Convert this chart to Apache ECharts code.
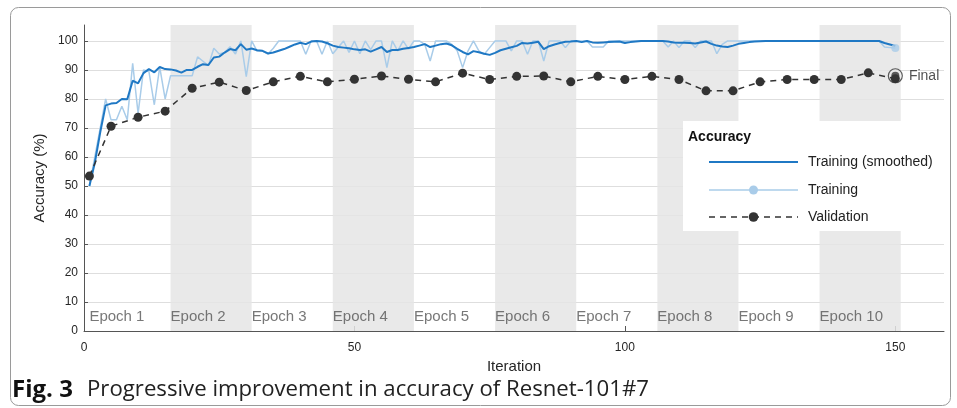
<!DOCTYPE html>
<html><head><meta charset="utf-8">
<script src="https://cdn.jsdelivr.net/npm/echarts@6/dist/echarts.min.js"></script>
<style>html,body{margin:0;padding:0;background:#fff}#c{width:957px;height:408px}</style>
</head><body><div id="c"></div>
<script>
// ---- data ----
const trainingRaw = [
  50,60,70,80,72.8,72.8,77.5,72.8,92.3,75,
  90,89.5,78,91,80,88,88,88,88,88,
  94.5,93,91.5,97.5,95.5,96,98,95.5,100,87.7,
  100,96.5,96.5,95.5,97.5,100,100,100,100,100,
  95.4,100,100,95.4,100,95.6,97.8,100,96,100,
  95.6,100,97,100,100,90.8,100,96.6,100,97.2,
  100,100,98.8,93.1,100,100,100,98.8,96.6,90.8,
  96.6,100,96.6,95.4,97.7,100,100,100,96.6,100,
  100,95.4,100,100,93.1,100,100,100,97.7,100,
  100,100,100,97.9,97.9,97.9,100,100,100,100,
  100,100,100,100,100,100,100,97.9,100,97.7,
  100,100,97.7,100,100,100,95.6,98.8,100,100,
  100,100,100,100,100,100,100,100,100,100,
  100,100,100,100,100,100,100,100,100,100,
  100,100,100,100,100,100,100,97.9,97.7,97.6
];
const trainingSmoothed = [
  50,58,68.5,77.8,78.4,78.6,80,79.9,86.3,85.4,
  88.9,90.3,89.2,91,90.3,90.2,89.8,89.1,90,90,
  91.1,92,91.7,94.3,94.6,96,97.2,96.8,98.9,97,
  97.4,96.8,96.6,95.7,96,96.6,97.2,98,98.8,99.4,
  98.9,99.8,100,99.8,99.2,98.4,97.9,97.7,97.5,97.1,
  96.9,97.1,96.3,97.1,97.9,96.2,96.9,96.9,97.3,97.6,
  97.9,98.4,98.9,97.9,98.4,98.9,99.1,98.5,97.3,96.2,
  95.4,96.5,96.1,95.6,95.2,95.9,96.8,97.3,97.8,98.3,
  99.3,99.1,99.4,99.7,97.2,98.2,98.8,99.3,99.7,99.8,
  100,99.6,100,99.5,99.4,99.5,99.6,99.7,99.8,99.3,
  99.6,99.8,100,100,100,100,100,99.8,99.5,99.4,
  99.4,99.3,99.1,99.5,99.8,99,98.4,98.1,97.9,98.4,
  99,99.3,99.6,99.8,99.9,100,100,100,100,100,
  100,100,100,100,100,100,100,100,100,100,
  100,100,100,100,100,100,100,99.3,98.8,98.3
];
const validationIters = [1,5,10,15,20,25,30,35,40,45,50,55,60,65,70,75,80,85,90,95,100,105,110,115,120,125,130,135,140,145,150];
const validationAcc = [53.4,70.6,73.7,75.8,83.7,85.8,82.9,85.9,87.8,85.9,86.8,87.9,86.8,85.9,88.9,86.7,87.8,87.9,85.9,87.8,86.7,87.8,86.7,82.8,82.8,85.9,86.7,86.7,86.7,89.0,87.0];
const finalIter = 150;
const finalAcc = 88.0;
const epochNames = ['Epoch 1','Epoch 2','Epoch 3','Epoch 4','Epoch 5','Epoch 6','Epoch 7','Epoch 8','Epoch 9','Epoch 10'];
const shadedEpochs = [2,4,6,8,10];
const itersPerEpoch = 15;
const xTicks = [0,50,100,150];
const yTicks = [0,10,20,30,40,50,60,70,80,90,100];

// ---- styling ----
const FONT = '"Liberation Sans", Arial, Helvetica, sans-serif';
const C_SMOOTH = '#1f78c4';
const C_RAW = '#a9cce9';
const C_VAL = '#333333';
const C_BAND = '#e5e5e5';
const C_GRID = '#dedede';

const rawData = trainingRaw.map((v, i) => [i + 1, v]);
const smoothData = trainingSmoothed.map((v, i) => [i + 1, v]);
const valData = validationIters.map((it, i) => [it, validationAcc[i]]);
const bandData = shadedEpochs.map(e => [{xAxis: (e - 1) * itersPerEpoch + 1}, {xAxis: e * itersPerEpoch + 1}]);
const epochLabelData = epochNames.map((n, k) => ({value: [k * itersPerEpoch + 1, 4.8], name: n}));

const gridColors = yTicks.map(() => C_GRID).concat(['rgba(0,0,0,0)']);

const chart = echarts.init(document.getElementById('c'), null, {renderer: 'canvas'});
chart.setOption({
  animation: false,
  backgroundColor: '#fff',
  textStyle: {fontFamily: FONT},
  grid: {left: 84, right: 13, top: 25, bottom: 77, containLabel: false},
  xAxis: {
    type: 'value', min: 0, max: 159, interval: 50,
    name: 'Iteration', nameLocation: 'middle', nameGap: 28,
    nameTextStyle: {fontFamily: FONT, fontSize: 15, color: '#262626'},
    axisLine: {show: true, lineStyle: {color: '#555', width: 1}},
    axisTick: {show: true, inside: true, length: 5, customValues: xTicks, lineStyle: {color: '#555'}},
    axisLabel: {customValues: xTicks, fontFamily: FONT, fontSize: 12, color: '#262626', margin: 11},
    splitLine: {show: false}
  },
  yAxis: {
    type: 'value', min: 0, max: 105.5, interval: 10,
    name: 'Accuracy (%)', nameLocation: 'middle', nameGap: 33, nameRotate: 90,
    nameTextStyle: {fontFamily: FONT, fontSize: 15, color: '#262626'},
    axisLine: {show: true, lineStyle: {color: '#555', width: 1}},
    axisTick: {show: true, inside: true, length: 4, customValues: yTicks, lineStyle: {color: '#555'}},
    axisLabel: {customValues: yTicks, fontFamily: FONT, fontSize: 12, color: '#262626', margin: 6},
    splitLine: {show: true, lineStyle: {color: gridColors, width: 1}}
  },
  series: [
    {
      type: 'line', name: 'bands', data: [], silent: true, z: 1,
      markArea: {silent: true, itemStyle: {color: C_BAND, opacity: 0.85}, data: bandData}
    },
    {
      type: 'scatter', name: 'epochs', data: epochLabelData, symbolSize: 0, z: 6, silent: true,
      label: {show: true, position: 'right', distance: 0, formatter: p => p.name,
        fontFamily: FONT, fontSize: 15, color: '#555'}
    },
    {
      type: 'line', name: 'Training', data: rawData, showSymbol: false, symbol: 'none', z: 2,
      lineStyle: {color: C_RAW, width: 1.5}, itemStyle: {color: C_RAW}
    },
    {
      type: 'scatter', name: 'Training end', data: [rawData[rawData.length - 1]], z: 3,
      symbol: 'circle', symbolSize: 8, itemStyle: {color: C_RAW}
    },
    {
      type: 'line', name: 'Training (smoothed)', data: smoothData, showSymbol: false, symbol: 'none', z: 3,
      lineStyle: {color: C_SMOOTH, width: 2}
    },
    {
      type: 'line', name: 'Validation', data: valData, symbol: 'circle', symbolSize: 9, z: 4,
      lineStyle: {color: C_VAL, width: 1.5, type: [6, 5]}, itemStyle: {color: C_VAL}
    },
    {
      type: 'scatter', name: 'Final', data: [[finalIter, finalAcc]], z: 5,
      symbol: 'circle', symbolSize: 14,
      itemStyle: {color: 'rgba(255,255,255,0)', borderColor: C_VAL, borderWidth: 1.2},
      label: {show: true, position: 'right', distance: 6, formatter: 'Final', fontFamily: FONT, fontSize: 14, color: '#262626'}
    },
    {
      type: 'scatter', name: 'Final dot', data: [[finalIter, finalAcc]], z: 5,
      symbol: 'circle', symbolSize: 8, itemStyle: {color: C_VAL}
    }
  ],
  graphic: [
    {type: 'rect', z: 100, shape: {x: 10.5, y: 7.5, width: 940, height: 398, r: 8},
      style: {fill: 'none', stroke: '#9a9a9a', lineWidth: 1}},
    {type: 'rect', z: 100, shape: {x: 683, y: 121, width: 263, height: 110},
      style: {fill: '#ffffff'}},
    {type: 'text', z: 101, x: 688, y: 137,
      style: {text: 'Accuracy', font: 'bold 14px ' + FONT, fill: '#111', verticalAlign: 'middle'}},
    {type: 'line', z: 101, shape: {x1: 709, y1: 162, x2: 798, y2: 162}, style: {stroke: C_SMOOTH, lineWidth: 2}},
    {type: 'line', z: 101, shape: {x1: 709, y1: 190, x2: 798, y2: 190}, style: {stroke: C_RAW, lineWidth: 1.5}},
    {type: 'circle', z: 102, shape: {cx: 753.5, cy: 190, r: 4.5}, style: {fill: C_RAW}},
    {type: 'line', z: 101, shape: {x1: 709, y1: 217, x2: 798, y2: 217}, style: {stroke: C_VAL, lineWidth: 1.5, lineDash: [6, 5]}},
    {type: 'circle', z: 102, shape: {cx: 753.5, cy: 217, r: 4.8}, style: {fill: C_VAL}},
    {type: 'text', z: 101, x: 808, y: 162, style: {text: 'Training (smoothed)', font: '14px ' + FONT, fill: '#222', verticalAlign: 'middle'}},
    {type: 'text', z: 101, x: 808, y: 190, style: {text: 'Training', font: '14px ' + FONT, fill: '#222', verticalAlign: 'middle'}},
    {type: 'text', z: 101, x: 808, y: 217, style: {text: 'Validation', font: '14px ' + FONT, fill: '#222', verticalAlign: 'middle'}},
    {type: 'text', z: 101, x: 12, y: 390,
      style: {text: 'Fig. 3', font: 'bold 24px "Open Sans", sans-serif', fill: '#111', verticalAlign: 'middle'}},
    {type: 'text', z: 101, x: 87, y: 390,
      style: {text: 'Progressive improvement in accuracy of Resnet-101#7', font: '22.2px "Open Sans", sans-serif', fill: '#222', verticalAlign: 'middle'}}
  ]
});
</script>
</body></html>
